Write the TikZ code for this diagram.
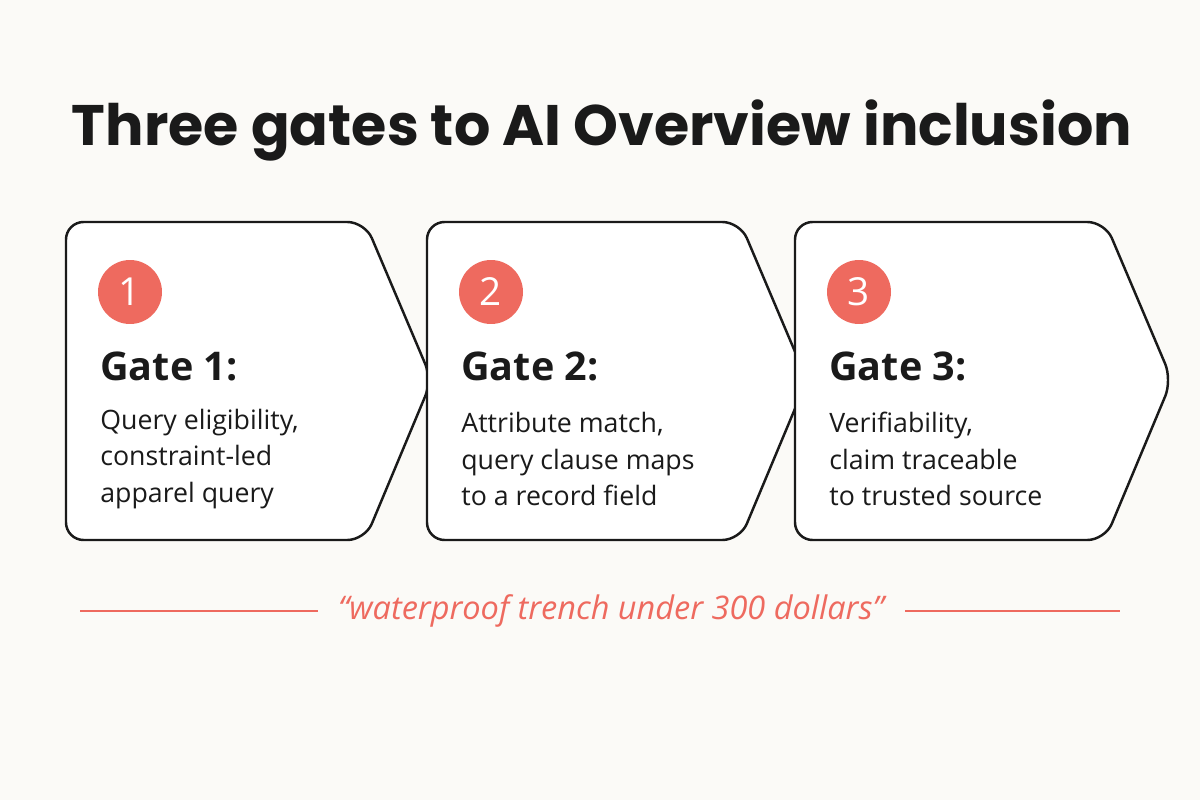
\documentclass[tikz,border=0pt]{standalone}
\usepackage{fontspec}
\setmainfont{Open Sans}
\newfontfamily\titlefont{Poppins}
\definecolor{bg}{HTML}{FBFAF7}
\definecolor{accent}{HTML}{EE6A5F}
\definecolor{ink}{HTML}{1A1A1A}
\begin{document}
\begin{tikzpicture}[x=0.02cm,y=-0.02cm,
  gate/.style={draw=ink,line width=1.4pt,rounded corners=10pt,fill=white},
  num/.style={circle,fill=accent,minimum size=1.28cm,inner sep=0pt,text=white,font=\fontsize{22}{26}\selectfont},
  head/.style={anchor=west,inner sep=0pt,text=ink,font=\bfseries\fontsize{22.5}{26}\selectfont},
  body/.style={anchor=west,inner sep=0pt,align=left,text=ink,font=\fontsize{15.2}{21}\selectfont},
  quote/.style={text=accent,font=\itshape\fontsize{18.5}{22}\selectfont}]
\fill[bg] (0,0) rectangle (1200,800);
\node[text=ink,font=\titlefont\bfseries\fontsize{32.5}{40}\selectfont] (title) at (602,130) {Three gates to AI Overview inclusion};
\foreach \i/\l/\r/\t in {1/66/365/{Query eligibility,\\constraint-led\\apparel query},2/427/740/{Attribute match,\\query clause maps\\to a record field},3/795/1105/{Verifiability,\\claim traceable\\to trusted source}}{
  \draw[gate] (\l,222) -- (\r,222) -- (\r+67,380) -- (\r,540) -- (\l,540) -- cycle;
  \node[num] (n\i) at (\l+64,292) {\i};
  \node[head] (g\i) at (\l+34,366) {Gate \i:};
  \node[body] (b\i) at (\l+34,459) {\t};
}
\node[quote] (q) at (611,611) {“waterproof trench under 300 dollars”};
\coordinate (l1) at (80,611); \coordinate (r1) at (1120,611);
\draw[accent,line width=1pt] (l1) -- (318,611);
\draw[accent,line width=1pt] (905,611) -- (r1);
\end{tikzpicture}
\end{document}
